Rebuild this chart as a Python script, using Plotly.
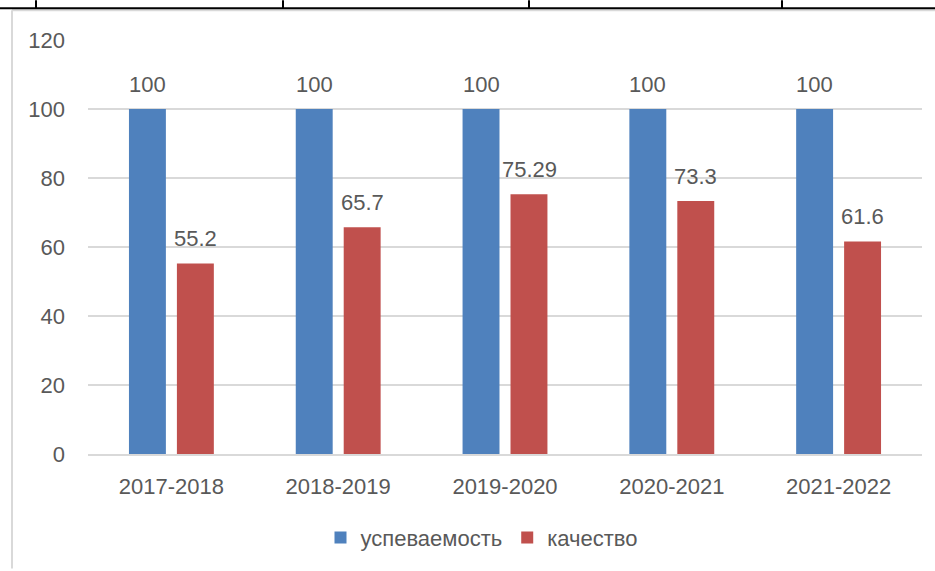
import plotly.graph_objects as go

years = ["2017-2018", "2018-2019", "2019-2020", "2020-2021", "2021-2022"]
uspev = [100, 100, 100, 100, 100]
kachestvo = [55.2, 65.7, 75.29, 73.3, 61.6]
series_names = ["успеваемость", "качество"]
y_ticks = [0, 20, 40, 60, 80, 100, 120]

BLUE = "#4F81BD"
RED = "#C0504D"
TXT = "#595959"
FONT = "Liberation Sans, Arial, sans-serif"
FS = 22

W, H = 935, 571
L, R, T, B = 88, 13, 40, 115
pw, ph = W - L - R, H - T - B

fig = go.Figure()
fig.add_trace(go.Bar(x=years, y=uspev, name=series_names[0], marker_color=BLUE,
                     marker_line_width=0))
fig.add_trace(go.Bar(x=years, y=kachestvo, name=series_names[1], marker_color=RED,
                     marker_line_width=0))

annotations = []
for yr, v in zip(years, uspev):
    annotations.append(dict(x=yr, y=v, xref="x", yref="y", text=f"{v:g}", showarrow=False,
                            xshift=-24, yshift=25, yanchor="middle",
                            font=dict(family=FONT, size=FS, color=TXT)))
for yr, v in zip(years, kachestvo):
    annotations.append(dict(x=yr, y=v, xref="x", yref="y", text=f"{v:g}", showarrow=False,
                            xshift=24, yshift=25, yanchor="middle",
                            font=dict(family=FONT, size=FS, color=TXT)))


def px_x(p):
    return (p - L) / pw


def px_y(p):
    return (H - B - p) / ph


shapes = []
# light grey chart border (left and top)
shapes.append(dict(type="line", xref="paper", yref="paper", x0=px_x(12), x1=px_x(12),
                   y0=px_y(10), y1=px_y(571), line=dict(color="#D9D9D9", width=2)))
shapes.append(dict(type="line", xref="paper", yref="paper", x0=px_x(12), x1=px_x(935),
                   y0=px_y(10), y1=px_y(10), line=dict(color="#D9D9D9", width=2)))
# black table lines at the top
shapes.append(dict(type="line", xref="paper", yref="paper", x0=px_x(0), x1=px_x(935),
                   y0=px_y(8), y1=px_y(8), line=dict(color="black", width=2)))
for vx in [36, 283, 529, 782]:
    shapes.append(dict(type="line", xref="paper", yref="paper", x0=px_x(vx), x1=px_x(vx),
                       y0=px_y(0), y1=px_y(8), line=dict(color="black", width=2)))

fig.update_layout(
    width=W, height=H,
    margin=dict(l=L, r=R, t=T, b=B),
    paper_bgcolor="white", plot_bgcolor="white",
    barmode="group", bargap=0.425, bargroupgap=0.23,
    font=dict(family=FONT, size=FS, color=TXT),
    xaxis=dict(showgrid=False, showline=True, linecolor="#D9D9D9", linewidth=2,
               ticks="", ticklabelstandoff=12, tickfont=dict(size=FS, color=TXT)),
    yaxis=dict(range=[0, 120], tickvals=y_ticks, showgrid=True, gridcolor="#D9D9D9",
               gridwidth=2, zeroline=False, showline=False, ticks="",
               ticklabelstandoff=22, tickfont=dict(size=FS, color=TXT)),
    legend=dict(orientation="h", x=px_x(482), xanchor="center", y=px_y(540), yanchor="middle",
                font=dict(size=FS, color=TXT), itemsizing="constant"),
    annotations=annotations,
    shapes=shapes,
)

fig.write_html("out.html", config={"displayModeBar": False},
               post_script="document.body.style.margin='0';document.body.style.overflow='hidden';")
